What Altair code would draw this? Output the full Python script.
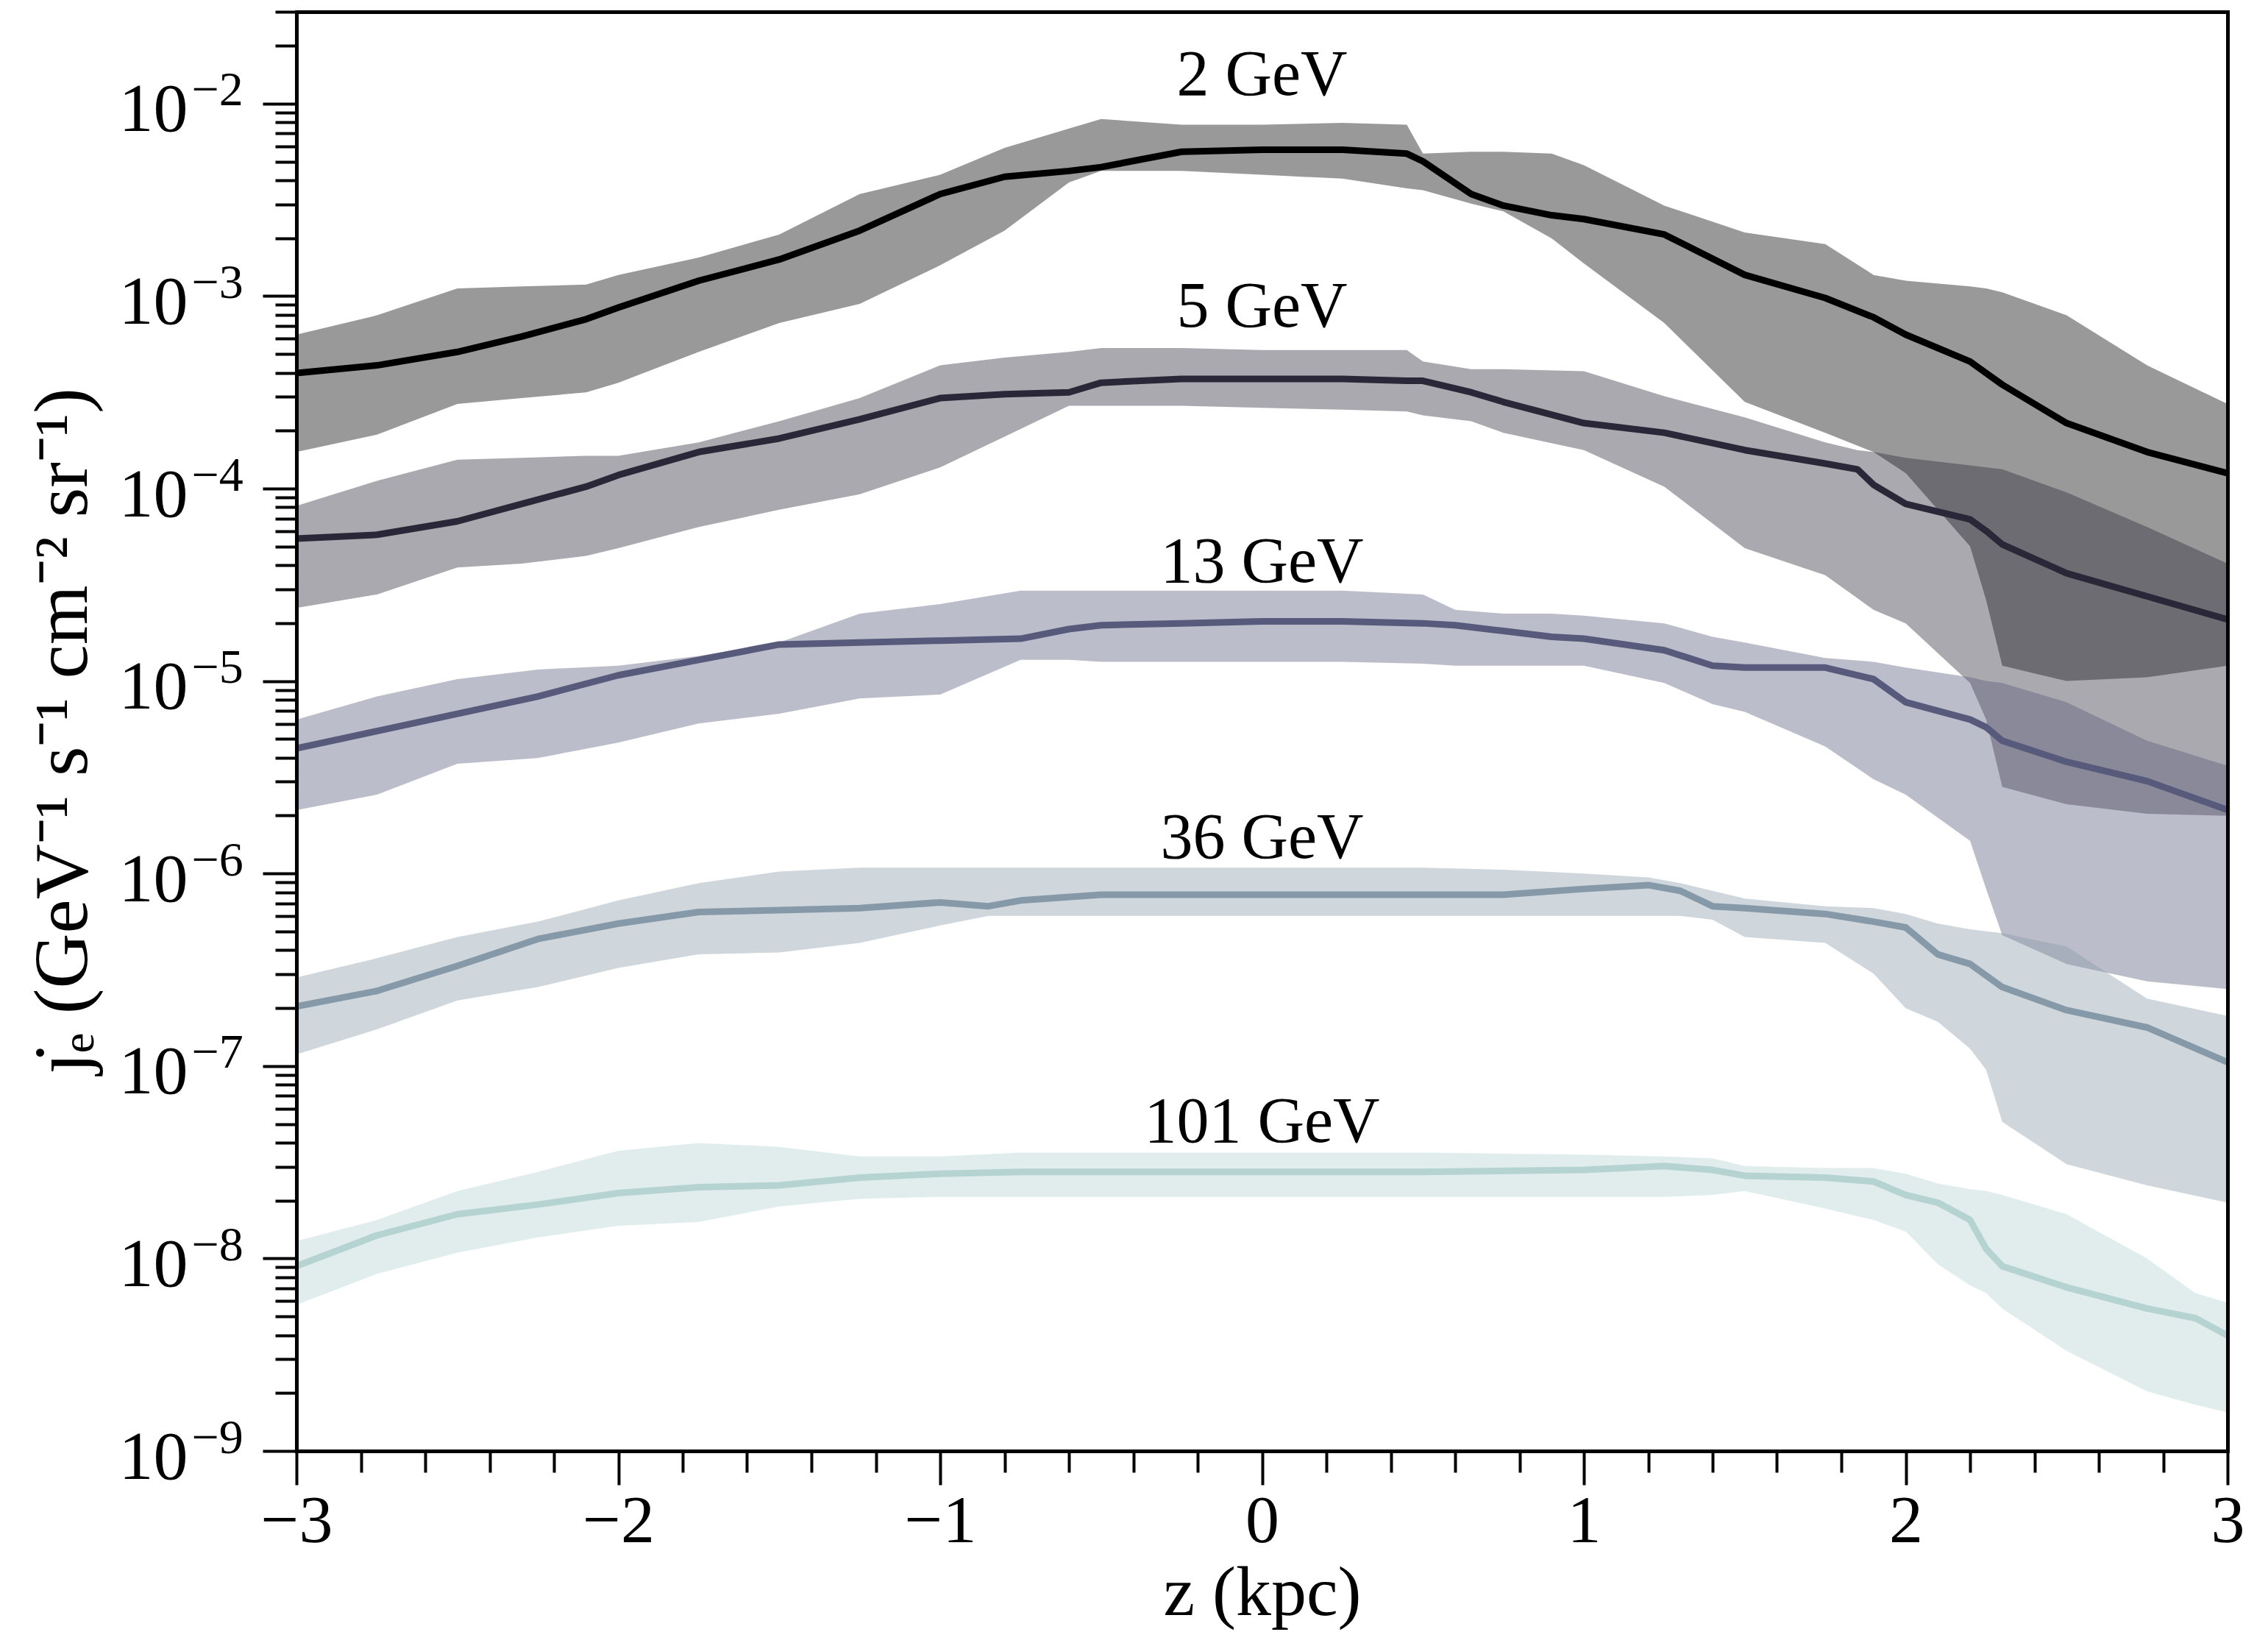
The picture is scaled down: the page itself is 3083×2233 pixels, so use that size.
import altair as alt
import pandas as pd

FONT = "Liberation Serif"

SERIES = ["2 GeV", "5 GeV", "13 GeV", "36 GeV", "101 GeV"]
COLORS = ["#000000", "#2a2838", "#575a7b", "#8699a8", "#b5d3d1"]

# ---- data (log10 of j_e) ----
Z2 = [-3, -2.75, -2.5, -2.3, -2.1, -2, -1.75, -1.5, -1.25, -1, -0.8, -0.6, -0.5, -0.25, 0, 0.25,
      0.45, 0.5, 0.65, 0.75, 0.9, 1, 1.25, 1.5, 1.75, 1.9, 2, 2.2, 2.25, 2.3, 2.5, 2.75, 3]
LINE2 = [-3.40, -3.36, -3.29, -3.21, -3.12, -3.06, -2.92, -2.81, -2.66, -2.47, -2.38, -2.35, -2.33, -2.25,
         -2.24, -2.24, -2.26, -2.30, -2.47, -2.53, -2.58, -2.60, -2.68, -2.89, -3.01, -3.11, -3.20, -3.34,
         -3.40, -3.46, -3.66, -3.81, -3.92]
UP2 = [-3.20, -3.10, -2.96, -2.95, -2.94, -2.89, -2.80, -2.68, -2.47, -2.37, -2.23, -2.13, -2.08, -2.11,
       -2.11, -2.10, -2.11, -2.26, -2.25, -2.25, -2.26, -2.32, -2.53, -2.67, -2.73, -2.89, -2.92, -2.95,
       -2.96, -2.98, -3.10, -3.36, -3.56]
LO2 = [-3.81, -3.72, -3.56, -3.53, -3.50, -3.45, -3.29, -3.14, -3.04, -2.84, -2.66, -2.41, -2.35, -2.35,
       -2.37, -2.39, -2.44, -2.45, -2.52, -2.56, -2.70, -2.83, -3.14, -3.55, -3.71, -3.81, -3.92, -4.30,
       -4.58, -4.92, -5.00, -4.98, -4.92]

Z5 = [-3, -2.75, -2.5, -2.3, -2.1, -2, -1.75, -1.5, -1.25, -1, -0.8, -0.6, -0.5, -0.25, 0, 0.25,
      0.45, 0.5, 0.65, 0.75, 1, 1.25, 1.5, 1.75, 1.85, 1.9, 2, 2.2, 2.25, 2.3, 2.5, 2.75, 3]
LINE5 = [-4.26, -4.24, -4.17, -4.08, -3.99, -3.93, -3.81, -3.74, -3.64, -3.53, -3.51, -3.50, -3.45, -3.43,
         -3.43, -3.43, -3.44, -3.44, -3.50, -3.55, -3.66, -3.71, -3.80, -3.87, -3.90, -3.98, -4.08, -4.16,
         -4.22, -4.29, -4.44, -4.56, -4.68]
UP5 = [-4.09, -3.96, -3.85, -3.84, -3.83, -3.83, -3.76, -3.65, -3.53, -3.36, -3.32, -3.29, -3.27, -3.27,
       -3.28, -3.28, -3.28, -3.34, -3.38, -3.38, -3.39, -3.52, -3.63, -3.76, -3.80, -3.81, -3.84, -3.88,
       -3.89, -3.90, -4.02, -4.20, -4.39]
LO5 = [-4.62, -4.55, -4.41, -4.39, -4.35, -4.31, -4.20, -4.11, -4.03, -3.89, -3.73, -3.57, -3.57, -3.57,
       -3.58, -3.59, -3.60, -3.62, -3.65, -3.71, -3.80, -3.99, -4.31, -4.45, -4.57, -4.63, -4.70, -5.01,
       -5.20, -5.55, -5.64, -5.69, -5.70]

Z13 = [-3, -2.75, -2.5, -2.25, -2, -1.75, -1.5, -1.25, -1, -0.75, -0.6, -0.5, -0.25, 0, 0.25, 0.5,
       0.6, 0.75, 0.9, 1, 1.25, 1.4, 1.5, 1.75, 1.9, 2, 2.2, 2.25, 2.3, 2.5, 2.75, 3]
LINE13 = [-5.35, -5.26, -5.17, -5.08, -4.97, -4.89, -4.81, -4.80, -4.79, -4.78, -4.73, -4.71, -4.70, -4.69,
          -4.69, -4.70, -4.71, -4.74, -4.77, -4.78, -4.84, -4.92, -4.93, -4.93, -4.99, -5.11, -5.20, -5.24,
          -5.31, -5.42, -5.52, -5.67]
UP13 = [-5.20, -5.08, -4.99, -4.94, -4.92, -4.87, -4.80, -4.65, -4.60, -4.53, -4.53, -4.53, -4.53, -4.53,
        -4.53, -4.55, -4.63, -4.65, -4.65, -4.66, -4.70, -4.77, -4.80, -4.88, -4.90, -4.93, -4.98, -5.00,
        -5.01, -5.11, -5.31, -5.44]
LO13 = [-5.67, -5.59, -5.43, -5.40, -5.32, -5.22, -5.17, -5.09, -5.07, -4.89, -4.89, -4.90, -4.90, -4.90,
        -4.90, -4.91, -4.92, -4.92, -4.92, -4.92, -5.01, -5.12, -5.16, -5.34, -5.51, -5.59, -5.83, -6.08,
        -6.32, -6.47, -6.56, -6.60]

Z36 = [-3, -2.75, -2.5, -2.25, -2, -1.75, -1.5, -1.25, -1, -0.85, -0.75, -0.5, -0.25, 0, 0.25, 0.5,
       0.75, 1, 1.2, 1.3, 1.4, 1.5, 1.75, 1.9, 2, 2.1, 2.2, 2.25, 2.3, 2.5, 2.75, 3]
LINE36 = [-6.69, -6.61, -6.48, -6.34, -6.26, -6.20, -6.19, -6.18, -6.15, -6.17, -6.14, -6.11, -6.11, -6.11,
          -6.11, -6.11, -6.11, -6.08, -6.06, -6.09, -6.17, -6.18, -6.21, -6.25, -6.28, -6.42, -6.47, -6.53,
          -6.59, -6.71, -6.80, -6.98]
UP36 = [-6.54, -6.44, -6.33, -6.25, -6.14, -6.05, -5.99, -5.97, -5.97, -5.97, -5.97, -5.97, -5.97, -5.97,
        -5.97, -5.97, -5.98, -6.00, -6.02, -6.05, -6.09, -6.13, -6.17, -6.18, -6.21, -6.26, -6.29, -6.30,
        -6.31, -6.38, -6.65, -6.74]
LO36 = [-6.94, -6.81, -6.66, -6.59, -6.49, -6.42, -6.41, -6.36, -6.27, -6.22, -6.22, -6.22, -6.22, -6.22,
        -6.22, -6.22, -6.22, -6.22, -6.22, -6.22, -6.24, -6.33, -6.36, -6.52, -6.70, -6.77, -6.91, -7.02,
        -7.29, -7.51, -7.62, -7.71]

Z101 = [-3, -2.75, -2.5, -2.25, -2, -1.75, -1.5, -1.25, -1, -0.75, -0.5, 0, 0.5, 1, 1.25, 1.4, 1.5,
        1.75, 1.9, 2, 2.1, 2.2, 2.25, 2.3, 2.5, 2.75, 2.9, 3]
LINE101 = [-8.04, -7.88, -7.77, -7.72, -7.66, -7.63, -7.62, -7.58, -7.56, -7.55, -7.55, -7.55, -7.55,
           -7.54, -7.52, -7.54, -7.57, -7.58, -7.60, -7.67, -7.71, -7.80, -7.95, -8.04, -8.15, -8.26,
           -8.31, -8.40]
UP101 = [-7.91, -7.80, -7.65, -7.55, -7.44, -7.40, -7.42, -7.47, -7.47, -7.45, -7.45, -7.45, -7.45,
         -7.46, -7.47, -7.48, -7.52, -7.53, -7.53, -7.56, -7.61, -7.64, -7.65, -7.67, -7.77, -8.00,
         -8.18, -8.23]
LO101 = [-8.24, -8.08, -7.97, -7.89, -7.83, -7.81, -7.73, -7.69, -7.68, -7.68, -7.68, -7.68, -7.68,
         -7.68, -7.68, -7.67, -7.65, -7.74, -7.80, -7.86, -8.03, -8.14, -8.18, -8.26, -8.48, -8.69,
         -8.76, -8.80]

# annotation labels
LABEL_Z = [0, 0, 0, 0, 0]
LABEL_V = [1.39e-2, 8.7e-4, 4.1e-5, 1.52e-6, 5.07e-8]

# axis ticks
X_MAJOR = [-3, -2, -1, 0, 1, 2, 3]
X_MINOR = [-2.8, -2.6, -2.4, -2.2, -1.8, -1.6, -1.4, -1.2, -0.8, -0.6, -0.4, -0.2,
           0.2, 0.4, 0.6, 0.8, 1.2, 1.4, 1.6, 1.8, 2.2, 2.4, 2.6, 2.8]
Y_EXP = [-9, -8, -7, -6, -5, -4, -3, -2]
Y_MAJOR = [10.0 ** e for e in Y_EXP]
Y_MINOR = [k * 10.0 ** e for e in range(-9, -2) for k in range(2, 10)] + [2e-2, 3e-2]
EXP_LABELS = ["\u2212" + str(-e) for e in Y_EXP]

exp_expr = "''"
for e, lab in zip(Y_EXP, EXP_LABELS):
    exp_expr = f"round(log(datum.value)/LN10) == {e} ? '{lab}' : ({exp_expr})"

W, H = 2625, 1956

xscale = alt.Scale(domain=[-3, 3], nice=False, zero=False)
yscale = alt.Scale(type="log", domain=[1e-9, 3e-2], nice=False)

x_axis = alt.Axis(values=X_MAJOR, format="d", tickSize=46, tickWidth=4, tickColor="black",
                  labelFont=FONT, labelFontSize=92, labelColor="black", labelPadding=4,
                  labelFlush=False, labelOverlap=False, grid=False,
                  domain=True, domainWidth=5, domainColor="black", domainCap="square",
                  title="z (kpc)", titleFont=FONT, titleFontSize=96, titleFontWeight="normal",
                  titleColor="black", titleX=W / 2, titleY=222, titleAlign="center",
                  titleBaseline="alphabetic", zindex=1, orient="bottom")
y_axis = alt.Axis(values=Y_MAJOR, labelExpr="'10'", tickSize=46, tickWidth=4, tickColor="black",
                  labelFont=FONT, labelFontSize=94, labelColor="black", labelPadding=102,
                  labelOffset=9, labelAlign="right",
                  labelFlush=False, labelOverlap=False, grid=False,
                  domain=True, domainWidth=5, domainColor="black", domainCap="square",
                  title="\u0237\u0307\u2091 (GeV\u207b\u00b9 s\u207b\u00b9 cm\u207b\u00b2 sr\u207b\u00b9)",
                  titleFont=FONT, titleFontSize=104, titleFontWeight="normal", titleColor="black",
                  titleAngle=270, titleX=-286, titleY=977, titleAlign="center",
                  titleBaseline="alphabetic", zindex=1, orient="left")

X = alt.X("z:Q", scale=xscale, axis=x_axis)


def frame(name, z, line, up, lo):
    return pd.DataFrame({
        "z": z,
        "v": [10.0 ** a for a in line],
        "hi": [10.0 ** a for a in up],
        "lo": [10.0 ** a for a in lo],
        "series": name,
    })


frames = [
    frame(SERIES[0], Z2, LINE2, UP2, LO2),
    frame(SERIES[1], Z5, LINE5, UP5, LO5),
    frame(SERIES[2], Z13, LINE13, UP13, LO13),
    frame(SERIES[3], Z36, LINE36, UP36, LO36),
    frame(SERIES[4], Z101, LINE101, UP101, LO101),
]

layers = []
for df, col in zip(frames, COLORS):
    band = alt.Chart(df).mark_area(color=col, opacity=0.4, clip=True).encode(
        x=X,
        y=alt.Y("lo:Q", scale=yscale, axis=y_axis),
        y2="hi:Q",
    )
    line = alt.Chart(df).mark_line(color=col, strokeWidth=9, clip=True, strokeJoin="round").encode(
        x=X,
        y=alt.Y("v:Q", scale=yscale, axis=y_axis),
    )
    layers += [band, line]

labels_df = pd.DataFrame({"z": LABEL_Z, "v": LABEL_V, "text": SERIES})
labels = alt.Chart(labels_df).mark_text(font=FONT, fontSize=88, color="black", align="center",
                                        baseline="middle").encode(
    x=X, y=alt.Y("v:Q", scale=yscale, axis=y_axis), text="text:N")
layers.append(labels)

main = alt.layer(*layers)

anchor_df = pd.DataFrame({"z": [0.0], "v": [1e-5]})

# minor ticks
minor_x = alt.Axis(values=X_MINOR, tickSize=29, tickWidth=4, tickColor="black", labels=False,
                   domain=False, grid=False, title=None, orient="bottom", zindex=1)
minor_y = alt.Axis(values=Y_MINOR, tickSize=29, tickWidth=4, tickColor="black", labels=False,
                   domain=False, grid=False, title=None, orient="left", zindex=1)
minor = alt.Chart(anchor_df).mark_point(opacity=0).encode(
    x=alt.X("z:Q", scale=xscale, axis=minor_x),
    y=alt.Y("v:Q", scale=yscale, axis=minor_y),
)

# exponents of the y tick labels (superscripts)
exp_y = alt.Axis(values=Y_MAJOR, labelExpr=exp_expr, ticks=False, tickSize=0, labelPadding=143,
                 labelAlign="left", labelOffset=-18, labelFont=FONT, labelFontSize=66,
                 labelColor="black", labelFlush=False, labelOverlap=False, domain=False,
                 grid=False, title=None, orient="left", zindex=1)
exp_x = alt.Axis(ticks=False, labels=False, domain=False, grid=False, title=None,
                 orient="top", zindex=1)
exps = alt.Chart(anchor_df).mark_point(opacity=0).encode(
    x=alt.X("z:Q", scale=xscale, axis=exp_x),
    y=alt.Y("v:Q", scale=yscale, axis=exp_y),
)

# top / right frame
edge_x = alt.Axis(ticks=False, labels=False, domain=True, domainWidth=5, domainColor="black",
                  domainCap="square", grid=False, title=None, orient="top", zindex=1)
edge_y = alt.Axis(ticks=False, labels=False, domain=True, domainWidth=5, domainColor="black",
                  domainCap="square", grid=False, title=None, orient="right", zindex=1)
edges = alt.Chart(anchor_df).mark_point(opacity=0).encode(
    x=alt.X("z:Q", scale=xscale, axis=edge_x),
    y=alt.Y("v:Q", scale=yscale, axis=edge_y),
)

chart = alt.layer(main, minor, exps, edges).resolve_axis(x="independent", y="independent").properties(
    width=W, height=H,
    padding={"left": 395, "top": 8, "right": 47, "bottom": 253},
    autosize=alt.AutoSizeParams(type="none"),
    background="white",
).configure_view(stroke=None)

chart.save("out.html", embed_options={"renderer": "svg", "actions": False})
